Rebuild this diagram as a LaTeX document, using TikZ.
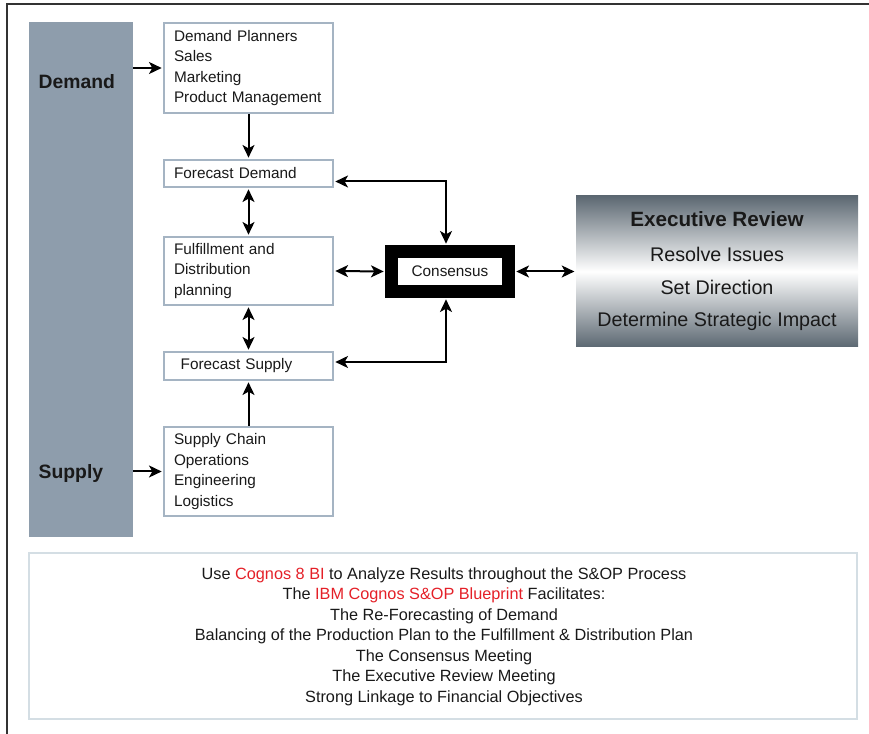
\documentclass[tikz,border=0pt]{standalone}
\usepackage{fontspec}
\setmainfont{Liberation Sans}
\usetikzlibrary{arrows.meta,calc}
\definecolor{barcol}{RGB}{142,157,172}
\definecolor{boxline}{RGB}{165,180,195}
\definecolor{noteline}{RGB}{212,222,228}
\definecolor{exdark}{RGB}{92,104,114}
\definecolor{cred}{RGB}{228,32,40}
\definecolor{txt}{RGB}{25,25,25}
\begin{document}
\begin{tikzpicture}[x=0.75pt,y=-0.75pt,
  tip/.tip={Stealth[length=9.5pt,width=9pt,inset=2.5pt]},
  arr/.style={line width=1.5pt,-tip,shorten >=1pt},
  darr/.style={line width=1.5pt,tip-tip,shorten >=1pt,shorten <=1pt},
  pbox/.style={draw=boxline,line width=1.5pt,fill=white,text width=111.75pt,
    align=left,inner xsep=7.5pt,inner ysep=0pt,text=txt,
    font=\fontsize{11.5}{15.4}\selectfont},
  sidelab/.style={anchor=west,text=txt,font=\bfseries\fontsize{14.5}{17}\selectfont},
  exline/.style={text=txt,font=\fontsize{14.8}{17}\selectfont}
]
\useasboundingbox (0,0) rectangle (869,734);
\draw[line width=1.2pt,draw=black!80] (869,4) -- (7,4) -- (7,734);

% side bar
\node[fill=barcol,minimum width=78pt,minimum height=386.25pt,inner sep=0pt] (bar) at (81,279.5) {};
\node[sidelab] (dlab) at (34,82) {Demand};
\node[sidelab] (slab) at (34,474) {Supply};

% process boxes
\node[pbox,minimum height=67.5pt] (box1) at (248.5,68)
  {Demand Planners\\Sales\\Marketing\\Product Management};
\node[pbox,minimum height=20.25pt] (fd) at (248.5,173.5) {Forecast Demand};
\node[pbox,minimum height=51pt] (ful) at (248.5,271)
  {Fulfillment and\\Distribution\\planning};
\node[pbox,minimum height=21pt] (fs) at (248.5,366) {\hspace*{5pt}Forecast Supply};
\node[pbox,minimum height=66.75pt] (sc) at (248.5,471.5)
  {Supply Chain\\Operations\\Engineering\\Logistics};

% consensus
\node[draw=black,line width=9.75pt,fill=white,minimum width=87.75pt,minimum height=30pt,
  inner sep=0pt,text=txt,font=\fontsize{11.5}{14}\selectfont] (cons) at (450,271.5) {Consensus};

% executive review
\node[minimum width=211.5pt,minimum height=113.25pt,inner sep=0pt,
  top color=exdark,bottom color=exdark,middle color=white] (exec) at (717,271.5) {};
\node[text=txt,font=\bfseries\fontsize{15.5}{18}\selectfont] (ex1) at (717,219) {Executive Review};
\node[exline] (ex2) at (717,254) {Resolve Issues};
\node[exline] (ex3) at (717,287) {Set Direction};
\node[exline] (ex4) at (717,321) {Determine Strategic Impact};

% note box
\node[draw=noteline,line width=1.5pt,minimum width=621pt,minimum height=124.5pt,inner sep=0pt] (note) at (443,636) {};
\node[align=center,text=txt,font=\fontsize{12.2}{15.4}\selectfont] (notetxt) at (444,636.5)
  {Use \textcolor{cred}{Cognos 8 BI} to Analyze Results throughout the S\&OP Process\\
   The \textcolor{cred}{IBM Cognos S\&OP Blueprint} Facilitates:\\
   The Re-Forecasting of Demand\\
   Balancing of the Production Plan to the Fulfillment \& Distribution Plan\\
   The Consensus Meeting\\
   The Executive Review Meeting\\
   Strong Linkage to Financial Objectives};

% connectors
\draw[arr] (bar.east |- box1.west) -- (box1.west);
\draw[arr] (bar.east |- sc.west) -- (sc.west);
\draw[arr] (box1.south) -- (fd.north);
\draw[darr] (fd.south) -- (ful.north);
\draw[darr] (ful.south) -- (fs.north);
\draw[arr] (sc.north) -- (fs.south);
\draw[darr] ($(fd.east)+(0,8)$) -| ($(cons.north)+(-4,0)$);
\draw[darr] ($(fs.east)+(0,-4)$) -| ($(cons.south)+(-4,0)$);
\draw[darr] (ful.east) -- (cons.west);
\draw[darr] (cons.east) -- (exec.west);
\end{tikzpicture}
\end{document}
